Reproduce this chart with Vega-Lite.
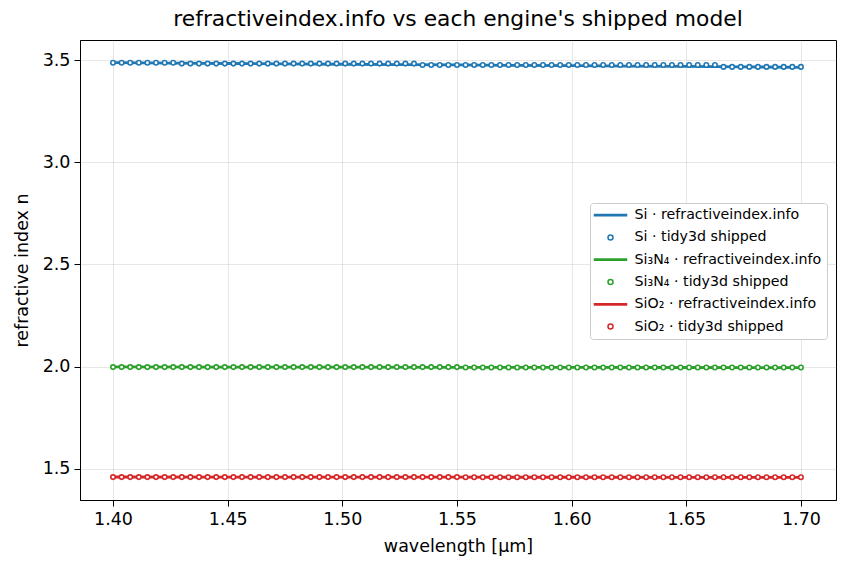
{
  "$schema": "https://vega.github.io/schema/vega-lite/v6.json",
  "autosize": "none",
  "width": 756,
  "height": 460,
  "padding": {"left": 80, "top": 40, "right": 11, "bottom": 70},
  "title": {
    "text": "refractiveindex.info vs each engine's shipped model",
    "font": "DejaVu Sans",
    "fontSize": 21.8,
    "fontWeight": "normal",
    "color": "black",
    "offset": 9
  },
  "datasets": {
    "lines": [
      {"s": "Si ri", "x": 1.4, "n": 3.487}, {"s": "Si ri", "x": 1.425, "n": 3.485}, {"s": "Si ri", "x": 1.45, "n": 3.4831},
      {"s": "Si ri", "x": 1.475, "n": 3.4813}, {"s": "Si ri", "x": 1.5, "n": 3.4795}, {"s": "Si ri", "x": 1.525, "n": 3.4777},
      {"s": "Si ri", "x": 1.55, "n": 3.4759}, {"s": "Si ri", "x": 1.575, "n": 3.4741}, {"s": "Si ri", "x": 1.6, "n": 3.4723},
      {"s": "Si ri", "x": 1.625, "n": 3.4705}, {"s": "Si ri", "x": 1.65, "n": 3.4687}, {"s": "Si ri", "x": 1.675, "n": 3.4666},
      {"s": "Si ri", "x": 1.7, "n": 3.4645},
      {"s": "N ri", "x": 1.4, "n": 1.999}, {"s": "N ri", "x": 1.45, "n": 1.9983}, {"s": "N ri", "x": 1.5, "n": 1.9976},
      {"s": "N ri", "x": 1.55, "n": 1.997}, {"s": "N ri", "x": 1.6, "n": 1.9965}, {"s": "N ri", "x": 1.65, "n": 1.996},
      {"s": "N ri", "x": 1.7, "n": 1.9955},
      {"s": "O ri", "x": 1.4, "n": 1.4605}, {"s": "O ri", "x": 1.45, "n": 1.4601}, {"s": "O ri", "x": 1.5, "n": 1.4598},
      {"s": "O ri", "x": 1.55, "n": 1.4595}, {"s": "O ri", "x": 1.6, "n": 1.4592}, {"s": "O ri", "x": 1.65, "n": 1.4588},
      {"s": "O ri", "x": 1.7, "n": 1.4585}
    ],
    "points": [
      {"s": "Si td", "x": 1.4, "n": 3.487}, {"s": "Si td", "x": 1.40375, "n": 3.487}, {"s": "Si td", "x": 1.4075, "n": 3.487},
      {"s": "Si td", "x": 1.41125, "n": 3.487}, {"s": "Si td", "x": 1.415, "n": 3.487}, {"s": "Si td", "x": 1.41875, "n": 3.487},
      {"s": "Si td", "x": 1.4225, "n": 3.487}, {"s": "Si td", "x": 1.42625, "n": 3.487}, {"s": "Si td", "x": 1.43, "n": 3.4825},
      {"s": "Si td", "x": 1.43375, "n": 3.4825}, {"s": "Si td", "x": 1.4375, "n": 3.4825}, {"s": "Si td", "x": 1.44125, "n": 3.4825},
      {"s": "Si td", "x": 1.445, "n": 3.4825}, {"s": "Si td", "x": 1.44875, "n": 3.4825}, {"s": "Si td", "x": 1.4525, "n": 3.4825},
      {"s": "Si td", "x": 1.45625, "n": 3.4825}, {"s": "Si td", "x": 1.46, "n": 3.4825}, {"s": "Si td", "x": 1.46375, "n": 3.4825},
      {"s": "Si td", "x": 1.4675, "n": 3.4825}, {"s": "Si td", "x": 1.47125, "n": 3.4825}, {"s": "Si td", "x": 1.475, "n": 3.4825},
      {"s": "Si td", "x": 1.47875, "n": 3.4825}, {"s": "Si td", "x": 1.4825, "n": 3.4825}, {"s": "Si td", "x": 1.48625, "n": 3.4825},
      {"s": "Si td", "x": 1.49, "n": 3.4825}, {"s": "Si td", "x": 1.49375, "n": 3.4825}, {"s": "Si td", "x": 1.4975, "n": 3.4825},
      {"s": "Si td", "x": 1.50125, "n": 3.4825}, {"s": "Si td", "x": 1.505, "n": 3.4825}, {"s": "Si td", "x": 1.50875, "n": 3.4825},
      {"s": "Si td", "x": 1.5125, "n": 3.4825}, {"s": "Si td", "x": 1.51625, "n": 3.4825}, {"s": "Si td", "x": 1.52, "n": 3.4825},
      {"s": "Si td", "x": 1.52375, "n": 3.4825}, {"s": "Si td", "x": 1.5275, "n": 3.4825}, {"s": "Si td", "x": 1.53125, "n": 3.4825},
      {"s": "Si td", "x": 1.535, "n": 3.4755}, {"s": "Si td", "x": 1.53875, "n": 3.4755}, {"s": "Si td", "x": 1.5425, "n": 3.4755},
      {"s": "Si td", "x": 1.54625, "n": 3.4755}, {"s": "Si td", "x": 1.55, "n": 3.4755}, {"s": "Si td", "x": 1.55375, "n": 3.4755},
      {"s": "Si td", "x": 1.5575, "n": 3.4755}, {"s": "Si td", "x": 1.56125, "n": 3.4755}, {"s": "Si td", "x": 1.565, "n": 3.4755},
      {"s": "Si td", "x": 1.56875, "n": 3.4755}, {"s": "Si td", "x": 1.5725, "n": 3.4755}, {"s": "Si td", "x": 1.57625, "n": 3.4755},
      {"s": "Si td", "x": 1.58, "n": 3.4755}, {"s": "Si td", "x": 1.58375, "n": 3.4755}, {"s": "Si td", "x": 1.5875, "n": 3.4755},
      {"s": "Si td", "x": 1.59125, "n": 3.4755}, {"s": "Si td", "x": 1.595, "n": 3.4755}, {"s": "Si td", "x": 1.59875, "n": 3.4755},
      {"s": "Si td", "x": 1.6025, "n": 3.4755}, {"s": "Si td", "x": 1.60625, "n": 3.4755}, {"s": "Si td", "x": 1.61, "n": 3.4755},
      {"s": "Si td", "x": 1.61375, "n": 3.4755}, {"s": "Si td", "x": 1.6175, "n": 3.4755}, {"s": "Si td", "x": 1.62125, "n": 3.4755},
      {"s": "Si td", "x": 1.625, "n": 3.4755}, {"s": "Si td", "x": 1.62875, "n": 3.4755}, {"s": "Si td", "x": 1.6325, "n": 3.4755},
      {"s": "Si td", "x": 1.63625, "n": 3.4755}, {"s": "Si td", "x": 1.64, "n": 3.4755}, {"s": "Si td", "x": 1.64375, "n": 3.4755},
      {"s": "Si td", "x": 1.6475, "n": 3.4755}, {"s": "Si td", "x": 1.65125, "n": 3.4755}, {"s": "Si td", "x": 1.655, "n": 3.4755},
      {"s": "Si td", "x": 1.65875, "n": 3.4755}, {"s": "Si td", "x": 1.6625, "n": 3.4755}, {"s": "Si td", "x": 1.66625, "n": 3.4665},
      {"s": "Si td", "x": 1.67, "n": 3.4665}, {"s": "Si td", "x": 1.67375, "n": 3.4665}, {"s": "Si td", "x": 1.6775, "n": 3.4665},
      {"s": "Si td", "x": 1.68125, "n": 3.4665}, {"s": "Si td", "x": 1.685, "n": 3.4665}, {"s": "Si td", "x": 1.68875, "n": 3.4665},
      {"s": "Si td", "x": 1.6925, "n": 3.4665}, {"s": "Si td", "x": 1.69625, "n": 3.4665}, {"s": "Si td", "x": 1.7, "n": 3.4665},

      {"s": "N td", "x": 1.4, "n": 1.998}, {"s": "N td", "x": 1.40375, "n": 1.998}, {"s": "N td", "x": 1.4075, "n": 1.998},
      {"s": "N td", "x": 1.41125, "n": 1.998}, {"s": "N td", "x": 1.415, "n": 1.998}, {"s": "N td", "x": 1.41875, "n": 1.998},
      {"s": "N td", "x": 1.4225, "n": 1.998}, {"s": "N td", "x": 1.42625, "n": 1.998}, {"s": "N td", "x": 1.43, "n": 1.998},
      {"s": "N td", "x": 1.43375, "n": 1.998}, {"s": "N td", "x": 1.4375, "n": 1.998}, {"s": "N td", "x": 1.44125, "n": 1.998},
      {"s": "N td", "x": 1.445, "n": 1.998}, {"s": "N td", "x": 1.44875, "n": 1.998}, {"s": "N td", "x": 1.4525, "n": 1.998},
      {"s": "N td", "x": 1.45625, "n": 1.998}, {"s": "N td", "x": 1.46, "n": 1.998}, {"s": "N td", "x": 1.46375, "n": 1.998},
      {"s": "N td", "x": 1.4675, "n": 1.998}, {"s": "N td", "x": 1.47125, "n": 1.998}, {"s": "N td", "x": 1.475, "n": 1.998},
      {"s": "N td", "x": 1.47875, "n": 1.998}, {"s": "N td", "x": 1.4825, "n": 1.998}, {"s": "N td", "x": 1.48625, "n": 1.998},
      {"s": "N td", "x": 1.49, "n": 1.998}, {"s": "N td", "x": 1.49375, "n": 1.998}, {"s": "N td", "x": 1.4975, "n": 1.998},
      {"s": "N td", "x": 1.50125, "n": 1.998}, {"s": "N td", "x": 1.505, "n": 1.998}, {"s": "N td", "x": 1.50875, "n": 1.998},
      {"s": "N td", "x": 1.5125, "n": 1.998}, {"s": "N td", "x": 1.51625, "n": 1.998}, {"s": "N td", "x": 1.52, "n": 1.998},
      {"s": "N td", "x": 1.52375, "n": 1.998}, {"s": "N td", "x": 1.5275, "n": 1.998}, {"s": "N td", "x": 1.53125, "n": 1.998},
      {"s": "N td", "x": 1.535, "n": 1.998}, {"s": "N td", "x": 1.53875, "n": 1.998}, {"s": "N td", "x": 1.5425, "n": 1.998},
      {"s": "N td", "x": 1.54625, "n": 1.998}, {"s": "N td", "x": 1.55, "n": 1.998}, {"s": "N td", "x": 1.55375, "n": 1.996},
      {"s": "N td", "x": 1.5575, "n": 1.996}, {"s": "N td", "x": 1.56125, "n": 1.996}, {"s": "N td", "x": 1.565, "n": 1.996},
      {"s": "N td", "x": 1.56875, "n": 1.996}, {"s": "N td", "x": 1.5725, "n": 1.996}, {"s": "N td", "x": 1.57625, "n": 1.996},
      {"s": "N td", "x": 1.58, "n": 1.996}, {"s": "N td", "x": 1.58375, "n": 1.996}, {"s": "N td", "x": 1.5875, "n": 1.996},
      {"s": "N td", "x": 1.59125, "n": 1.996}, {"s": "N td", "x": 1.595, "n": 1.996}, {"s": "N td", "x": 1.59875, "n": 1.996},
      {"s": "N td", "x": 1.6025, "n": 1.996}, {"s": "N td", "x": 1.60625, "n": 1.996}, {"s": "N td", "x": 1.61, "n": 1.996},
      {"s": "N td", "x": 1.61375, "n": 1.996}, {"s": "N td", "x": 1.6175, "n": 1.996}, {"s": "N td", "x": 1.62125, "n": 1.996},
      {"s": "N td", "x": 1.625, "n": 1.996}, {"s": "N td", "x": 1.62875, "n": 1.996}, {"s": "N td", "x": 1.6325, "n": 1.996},
      {"s": "N td", "x": 1.63625, "n": 1.996}, {"s": "N td", "x": 1.64, "n": 1.996}, {"s": "N td", "x": 1.64375, "n": 1.996},
      {"s": "N td", "x": 1.6475, "n": 1.996}, {"s": "N td", "x": 1.65125, "n": 1.996}, {"s": "N td", "x": 1.655, "n": 1.996},
      {"s": "N td", "x": 1.65875, "n": 1.996}, {"s": "N td", "x": 1.6625, "n": 1.996}, {"s": "N td", "x": 1.66625, "n": 1.996},
      {"s": "N td", "x": 1.67, "n": 1.996}, {"s": "N td", "x": 1.67375, "n": 1.996}, {"s": "N td", "x": 1.6775, "n": 1.996},
      {"s": "N td", "x": 1.68125, "n": 1.996}, {"s": "N td", "x": 1.685, "n": 1.996}, {"s": "N td", "x": 1.68875, "n": 1.996},
      {"s": "N td", "x": 1.6925, "n": 1.996}, {"s": "N td", "x": 1.69625, "n": 1.996}, {"s": "N td", "x": 1.7, "n": 1.996},

      {"s": "O td", "x": 1.4, "n": 1.46}, {"s": "O td", "x": 1.40375, "n": 1.46}, {"s": "O td", "x": 1.4075, "n": 1.46},
      {"s": "O td", "x": 1.41125, "n": 1.46}, {"s": "O td", "x": 1.415, "n": 1.46}, {"s": "O td", "x": 1.41875, "n": 1.46},
      {"s": "O td", "x": 1.4225, "n": 1.46}, {"s": "O td", "x": 1.42625, "n": 1.46}, {"s": "O td", "x": 1.43, "n": 1.46},
      {"s": "O td", "x": 1.43375, "n": 1.46}, {"s": "O td", "x": 1.4375, "n": 1.46}, {"s": "O td", "x": 1.44125, "n": 1.46},
      {"s": "O td", "x": 1.445, "n": 1.46}, {"s": "O td", "x": 1.44875, "n": 1.46}, {"s": "O td", "x": 1.4525, "n": 1.46},
      {"s": "O td", "x": 1.45625, "n": 1.46}, {"s": "O td", "x": 1.46, "n": 1.46}, {"s": "O td", "x": 1.46375, "n": 1.46},
      {"s": "O td", "x": 1.4675, "n": 1.46}, {"s": "O td", "x": 1.47125, "n": 1.46}, {"s": "O td", "x": 1.475, "n": 1.46},
      {"s": "O td", "x": 1.47875, "n": 1.46}, {"s": "O td", "x": 1.4825, "n": 1.46}, {"s": "O td", "x": 1.48625, "n": 1.46},
      {"s": "O td", "x": 1.49, "n": 1.46}, {"s": "O td", "x": 1.49375, "n": 1.46}, {"s": "O td", "x": 1.4975, "n": 1.46},
      {"s": "O td", "x": 1.50125, "n": 1.46}, {"s": "O td", "x": 1.505, "n": 1.46}, {"s": "O td", "x": 1.50875, "n": 1.46},
      {"s": "O td", "x": 1.5125, "n": 1.46}, {"s": "O td", "x": 1.51625, "n": 1.46}, {"s": "O td", "x": 1.52, "n": 1.46},
      {"s": "O td", "x": 1.52375, "n": 1.46}, {"s": "O td", "x": 1.5275, "n": 1.46}, {"s": "O td", "x": 1.53125, "n": 1.46},
      {"s": "O td", "x": 1.535, "n": 1.46}, {"s": "O td", "x": 1.53875, "n": 1.46}, {"s": "O td", "x": 1.5425, "n": 1.46},
      {"s": "O td", "x": 1.54625, "n": 1.46}, {"s": "O td", "x": 1.55, "n": 1.46}, {"s": "O td", "x": 1.55375, "n": 1.459},
      {"s": "O td", "x": 1.5575, "n": 1.459}, {"s": "O td", "x": 1.56125, "n": 1.459}, {"s": "O td", "x": 1.565, "n": 1.459},
      {"s": "O td", "x": 1.56875, "n": 1.459}, {"s": "O td", "x": 1.5725, "n": 1.459}, {"s": "O td", "x": 1.57625, "n": 1.459},
      {"s": "O td", "x": 1.58, "n": 1.459}, {"s": "O td", "x": 1.58375, "n": 1.459}, {"s": "O td", "x": 1.5875, "n": 1.459},
      {"s": "O td", "x": 1.59125, "n": 1.459}, {"s": "O td", "x": 1.595, "n": 1.459}, {"s": "O td", "x": 1.59875, "n": 1.459},
      {"s": "O td", "x": 1.6025, "n": 1.459}, {"s": "O td", "x": 1.60625, "n": 1.459}, {"s": "O td", "x": 1.61, "n": 1.459},
      {"s": "O td", "x": 1.61375, "n": 1.459}, {"s": "O td", "x": 1.6175, "n": 1.459}, {"s": "O td", "x": 1.62125, "n": 1.459},
      {"s": "O td", "x": 1.625, "n": 1.459}, {"s": "O td", "x": 1.62875, "n": 1.459}, {"s": "O td", "x": 1.6325, "n": 1.459},
      {"s": "O td", "x": 1.63625, "n": 1.459}, {"s": "O td", "x": 1.64, "n": 1.459}, {"s": "O td", "x": 1.64375, "n": 1.459},
      {"s": "O td", "x": 1.6475, "n": 1.459}, {"s": "O td", "x": 1.65125, "n": 1.459}, {"s": "O td", "x": 1.655, "n": 1.459},
      {"s": "O td", "x": 1.65875, "n": 1.459}, {"s": "O td", "x": 1.6625, "n": 1.459}, {"s": "O td", "x": 1.66625, "n": 1.459},
      {"s": "O td", "x": 1.67, "n": 1.459}, {"s": "O td", "x": 1.67375, "n": 1.459}, {"s": "O td", "x": 1.6775, "n": 1.459},
      {"s": "O td", "x": 1.68125, "n": 1.459}, {"s": "O td", "x": 1.685, "n": 1.459}, {"s": "O td", "x": 1.68875, "n": 1.459},
      {"s": "O td", "x": 1.6925, "n": 1.459}, {"s": "O td", "x": 1.69625, "n": 1.459}, {"s": "O td", "x": 1.7, "n": 1.459}
    ]
  },
  "encoding": {
    "x": {
      "field": "x",
      "type": "quantitative",
      "title": "wavelength [µm]",
      "scale": {"domain": [1.3856, 1.7153], "nice": false, "zero": false},
      "axis": {"values": [1.4, 1.45, 1.5, 1.55, 1.6, 1.65, 1.7], "format": ".2f", "titlePadding": 10}
    },
    "y": {
      "field": "n",
      "type": "quantitative",
      "title": "refractive index n",
      "scale": {"domain": [1.348, 3.598], "nice": false, "zero": false},
      "axis": {"values": [1.5, 2.0, 2.5, 3.0, 3.5], "format": ".1f", "titlePadding": 11}
    },
    "color": {
      "field": "s",
      "type": "nominal",
      "scale": {
        "domain": ["Si ri", "Si td", "N ri", "N td", "O ri", "O td"],
        "range": ["#1f77b4", "#1f77b4", "#2ca02c", "#2ca02c", "#d62728", "#d62728"]
      },
      "legend": {
        "title": null,
        "orient": "none",
        "legendX": 510,
        "legendY": 163,
        "labelExpr": "datum.value == 'Si ri' ? 'Si · refractiveindex.info' : datum.value == 'Si td' ? 'Si · tidy3d shipped' : datum.value == 'N ri' ? 'Si₃N₄ · refractiveindex.info' : datum.value == 'N td' ? 'Si₃N₄ · tidy3d shipped' : datum.value == 'O ri' ? 'SiO₂ · refractiveindex.info' : 'SiO₂ · tidy3d shipped'"
      }
    }
  },
  "layer": [
    {
      "data": {"name": "lines"},
      "mark": {"type": "line", "strokeWidth": 2.8}
    },
    {
      "data": {"name": "points"},
      "mark": {"type": "point", "filled": false, "fill": "white", "opacity": 1, "size": 20, "strokeWidth": 1.6},
      "encoding": {
        "shape": {
          "field": "s",
          "type": "nominal",
          "scale": {
            "domain": ["Si ri", "Si td", "N ri", "N td", "O ri", "O td"],
            "range": ["M-6.4,-0.25H6.4V0.25H-6.4Z", "circle", "M-6.4,-0.25H6.4V0.25H-6.4Z", "circle", "M-6.4,-0.25H6.4V0.25H-6.4Z", "circle"]
          },
          "legend": {
            "title": null,
            "orient": "none",
            "legendX": 510,
            "legendY": 163,
            "labelExpr": "datum.value == 'Si ri' ? 'Si · refractiveindex.info' : datum.value == 'Si td' ? 'Si · tidy3d shipped' : datum.value == 'N ri' ? 'Si₃N₄ · refractiveindex.info' : datum.value == 'N td' ? 'Si₃N₄ · tidy3d shipped' : datum.value == 'O ri' ? 'SiO₂ · refractiveindex.info' : 'SiO₂ · tidy3d shipped'"
          }
        }
      }
    }
  ],
  "config": {
    "font": "DejaVu Sans",
    "view": {"stroke": "black", "strokeWidth": 1},
    "axis": {
      "labelFont": "DejaVu Sans",
      "labelFontSize": 17.5,
      "labelColor": "black",
      "titleFont": "DejaVu Sans",
      "titleFontSize": 17.5,
      "titleFontWeight": "normal",
      "titleColor": "black",
      "domainColor": "black",
      "tickColor": "black",
      "tickSize": 6,
      "labelPadding": 4,
      "gridColor": "#b0b0b0",
      "gridOpacity": 0.3,
      "gridWidth": 1
    },
    "legend": {
      "fillColor": "white",
      "strokeColor": "#cccccc",
      "cornerRadius": 3,
      "padding": 5,
      "labelFont": "DejaVu Sans",
      "labelFontSize": 14.2,
      "labelColor": "black",
      "labelLimit": 400,
      "symbolSize": 25,
      "symbolStrokeWidth": 1.5,
      "symbolFillColor": "white",
      "symbolOffset": 8.4,
      "labelOffset": 17,
      "rowPadding": 7.3
    }
  }
}
